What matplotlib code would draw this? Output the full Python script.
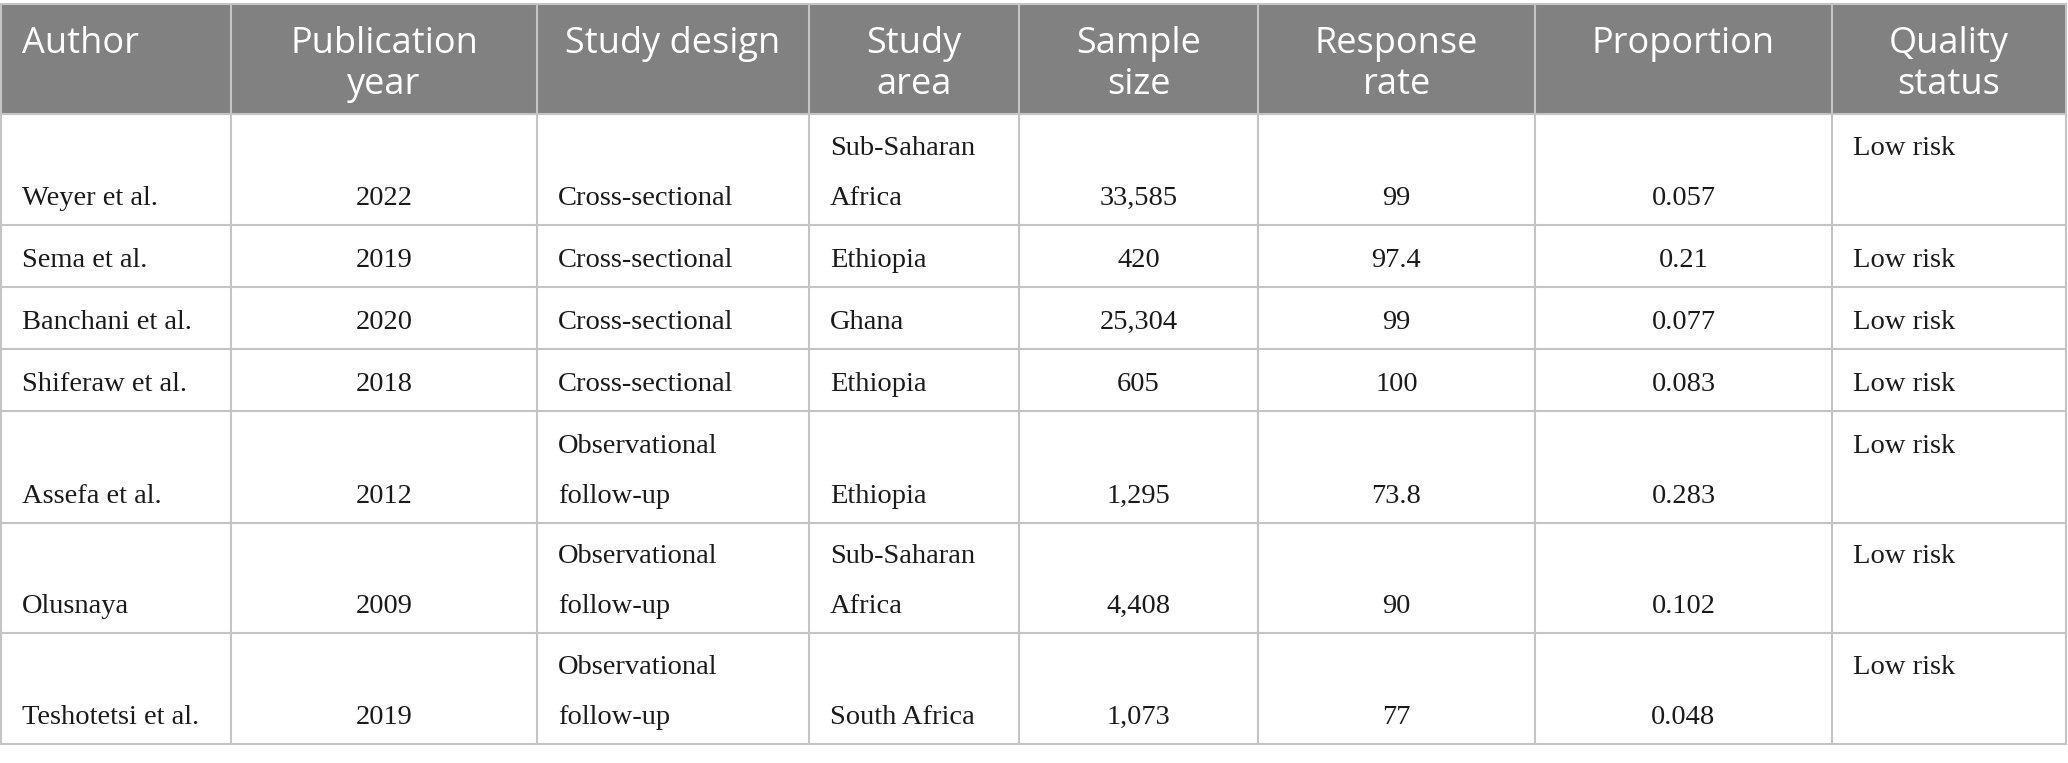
import matplotlib
matplotlib.use("Agg")
import matplotlib.pyplot as plt

# table content
headers = ["Author", "Publication\nyear", "Study design", "Study\narea", "Sample\nsize",
           "Response\nrate", "Proportion", "Quality\nstatus"]
authors = ["Weyer et al.", "Sema et al.", "Banchani et al.", "Shiferaw et al.",
           "Assefa et al.", "Olusnaya", "Teshotetsi et al."]
years = ["2022", "2019", "2020", "2018", "2012", "2009", "2019"]
designs = ["Cross-sectional", "Cross-sectional", "Cross-sectional", "Cross-sectional",
           "Observational\nfollow-up", "Observational\nfollow-up", "Observational\nfollow-up"]
areas = ["Sub-Saharan\nAfrica", "Ethiopia", "Ghana", "Ethiopia", "Ethiopia",
         "Sub-Saharan\nAfrica", "South Africa"]
sample_sizes = ["33,585", "420", "25,304", "605", "1,295", "4,408", "1,073"]
response_rates = ["99", "97.4", "99", "100", "73.8", "90", "77"]
proportions = ["0.057", "0.21", "0.077", "0.083", "0.283", "0.102", "0.048"]
quality = ["Low risk"] * 7

columns = [authors, years, designs, areas, sample_sizes, response_rates, proportions, quality]
body_align = ["left", "center", "left", "left", "center", "center", "center", "left"]
head_align = ["left", "center", "center", "center", "center", "center", "center", "center"]

# layout in pixels
W, H = 2068, 763
col_edges = [1, 231, 537, 809, 1019, 1258, 1535, 1832, 2066]
row_edges = [4, 114, 225, 287, 349, 411, 523, 633, 744]
PAD = 21
LINE_GAP = 50
HEAD_GAP = 41

grid_color = "#c4c4c4"
head_bg = "#808180"

fig = plt.figure(figsize=(W / 100, H / 100), dpi=100)
ax = fig.add_axes([0, 0, 1, 1])
ax.set_xlim(0, W)
ax.set_ylim(H, 0)
ax.axis("off")

# header band
ax.fill_between([col_edges[0], col_edges[-1]], row_edges[0], row_edges[1],
                color=head_bg, lw=0, zorder=0)


def text_x(c, align):
    if align == "left":
        return col_edges[c] + PAD
    return (col_edges[c] + col_edges[c + 1]) / 2


# header text
for c, h in enumerate(headers):
    for k, line in enumerate(h.split("\n")):
        ax.text(text_x(c, head_align[c]), 53 + k * HEAD_GAP, line, ha=head_align[c],
                va="baseline", color="white", fontsize=26, family="Open Sans")

# body text
for r in range(len(authors)):
    top, bottom = row_edges[r + 1], row_edges[r + 2]
    last_base = bottom - 20
    for c, col in enumerate(columns):
        lines = col[r].split("\n")
        tall = bottom - top > 80
        if len(lines) == 2:
            bases = [last_base - LINE_GAP, last_base]
        elif tall and c == len(columns) - 1:
            bases = [last_base - LINE_GAP]
        else:
            bases = [last_base]
        for line, b in zip(lines, bases):
            ax.text(text_x(c, body_align[c]), b, line, ha=body_align[c], va="baseline",
                    color="#1a1a1a", fontsize=20.5, family="Liberation Serif")

# grid
for x in col_edges:
    ax.plot([x, x], [row_edges[0], row_edges[-1]], color=grid_color, lw=1.5, zorder=1)
for y in row_edges:
    ax.plot([col_edges[0], col_edges[-1]], [y, y], color=grid_color, lw=1.5, zorder=1)

fig.savefig("out.png", dpi=100)
